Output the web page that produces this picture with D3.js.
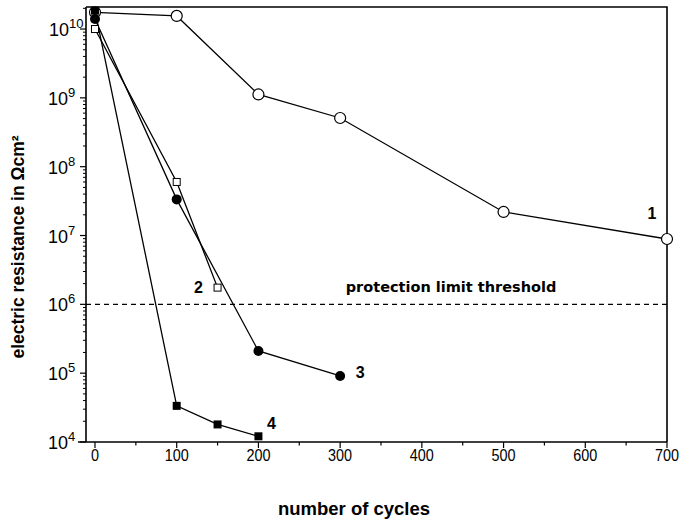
<!DOCTYPE html>
<html>
<head>
<meta charset="utf-8">
<script src="https://cdn.jsdelivr.net/npm/d3@7"></script>
<style>
  html, body { margin: 0; padding: 0; background: #fff; }
  svg { display: block; font-family: "Liberation Sans", Arial, sans-serif; }
</style>
</head>
<body>
<svg id="chart" width="681" height="521"></svg>
<script>
// Electric resistance (Ω·cm²) versus number of cycles for four coatings
const cycles1 = [0, 100, 200, 300, 500, 700];
const resist1 = [1.75e10, 1.55e10, 1.12e9, 5.1e8, 2.2e7, 8.9e6];

const cycles2 = [0, 100, 150];
const resist2 = [1.0e10, 6.0e7, 1.75e6];

const cycles3 = [0, 100, 200, 300];
const resist3 = [1.4e10, 3.35e7, 2.1e5, 9.1e4];

const cycles4 = [0, 100, 150, 200];
const resist4 = [1.85e10, 3.35e4, 1.8e4, 1.21e4];

const thresholdValue = 1e6;
const xTicks = [0, 100, 200, 300, 400, 500, 600, 700];
const xMinorTicks = [50, 150, 250, 350, 450, 550, 650];
const yDecades = [4, 5, 6, 7, 8, 9, 10];

const svg = d3.select("#chart");
const plotLeft = 86, plotRight = 667, plotTop = 7, plotBottom = 442;

const x = d3.scaleLinear().domain([-11, 700]).range([plotLeft, plotRight]);
const y = d3.scaleLog().domain([1e4, 2.09e10]).range([plotBottom, plotTop]);

// Frame (top and right sides)
svg.append("path")
  .attr("d", `M${plotLeft},${plotTop}H${plotRight}V${plotBottom}`)
  .attr("fill", "none").attr("stroke", "#000").attr("stroke-width", 1.6);

// X axis
const xAxis = svg.append("g").attr("transform", `translate(0,${plotBottom})`);
xAxis.append("line").attr("x1", 78).attr("x2", plotRight)
  .attr("stroke", "#000").attr("stroke-width", 1.6);
xAxis.selectAll("line.major").data(xTicks).join("line")
  .attr("class", "major")
  .attr("x1", d => x(d)).attr("x2", d => x(d))
  .attr("y1", 0).attr("y2", 6).attr("stroke", "#000").attr("stroke-width", 1.2);
xAxis.selectAll("line.minor").data(xMinorTicks).join("line")
  .attr("class", "minor")
  .attr("x1", d => x(d)).attr("x2", d => x(d))
  .attr("y1", 0).attr("y2", 3.5).attr("stroke", "#000").attr("stroke-width", 1.2);
xAxis.selectAll("text").data(xTicks).join("text")
  .attr("x", d => x(d)).attr("y", 19)
  .attr("text-anchor", "middle")
  .attr("font-size", 16)
  .attr("transform", d => `translate(${x(d)},0) scale(0.9,1) translate(${-x(d)},0)`)
  .text(d => d);

// Y axis
const yAxis = svg.append("g");
yAxis.append("line").attr("x1", plotLeft).attr("x2", plotLeft).attr("y1", plotTop).attr("y2", plotBottom)
  .attr("stroke", "#000").attr("stroke-width", 1.6);
yAxis.selectAll("line.major").data(yDecades).join("line")
  .attr("class", "major")
  .attr("x1", plotLeft - 6).attr("x2", plotLeft)
  .attr("y1", d => y(Math.pow(10, d))).attr("y2", d => y(Math.pow(10, d)))
  .attr("stroke", "#000").attr("stroke-width", 1.2);
const minor = [];
yDecades.forEach(d => {
  for (let m = 2; m <= 9; m++) {
    const v = m * Math.pow(10, d);
    if (v <= y.domain()[1]) minor.push(v);
  }
});
yAxis.selectAll("line.minor").data(minor).join("line")
  .attr("class", "minor")
  .attr("x1", plotLeft - 3).attr("x2", plotLeft)
  .attr("y1", d => y(d)).attr("y2", d => y(d))
  .attr("stroke", "#000").attr("stroke-width", 1);
const yLab = yAxis.selectAll("text").data(yDecades).join("text")
  .attr("x", d => d >= 10 ? 49 : 48)
  .attr("y", d => y(Math.pow(10, d)) + 7)
  .attr("font-size", 18);
yLab.append("tspan").text("10");
yLab.append("tspan").attr("dy", -8).attr("font-size", 13).text(d => d);

// Axis titles
svg.append("text")
  .attr("x", 354).attr("y", 515)
  .attr("text-anchor", "middle")
  .attr("font-size", 18.5).attr("font-weight", "bold")
  .text("number of cycles");
svg.append("text")
  .attr("transform", "translate(24,247) rotate(-90)")
  .attr("text-anchor", "middle")
  .attr("font-size", 17.5).attr("font-weight", "bold")
  .text("electric resistance in  \u03A9cm\u00B2");

// Protection limit threshold
svg.append("line")
  .attr("x1", plotLeft).attr("x2", plotRight)
  .attr("y1", y(thresholdValue)).attr("y2", y(thresholdValue))
  .attr("stroke", "#000").attr("stroke-width", 1.2)
  .attr("stroke-dasharray", "5,4");
svg.append("text")
  .attr("x", 451).attr("y", 292)
  .attr("text-anchor", "middle")
  .attr("font-family", "'DejaVu Sans', Verdana, sans-serif")
  .attr("font-size", 14.5).attr("font-weight", "bold")
  .text("protection limit threshold");

// Series lines
const line = d3.line().x(d => x(d[0])).y(d => y(d[1]));
const series = [
  { c: cycles1, r: resist1, marker: "openCircle" },
  { c: cycles2, r: resist2, marker: "openSquare" },
  { c: cycles3, r: resist3, marker: "filledCircle" },
  { c: cycles4, r: resist4, marker: "filledSquare" }
];
series.forEach(s => {
  s.pts = s.c.map((c, i) => [c, s.r[i]]);
  svg.append("path").attr("d", line(s.pts))
    .attr("fill", "none").attr("stroke", "#000").attr("stroke-width", 1.3);
});

// Markers
series.forEach(s => {
  const g = svg.append("g");
  s.pts.forEach(p => {
    const cx = x(p[0]), cy = y(p[1]);
    if (s.marker === "openCircle") {
      g.append("circle").attr("cx", cx).attr("cy", cy).attr("r", 5.5)
        .attr("fill", "#fff").attr("stroke", "#000").attr("stroke-width", 1.2);
    } else if (s.marker === "filledCircle") {
      g.append("circle").attr("cx", cx).attr("cy", cy).attr("r", 5)
        .attr("fill", "#000");
    } else if (s.marker === "openSquare") {
      g.append("rect").attr("x", cx - 3.5).attr("y", cy - 3.5).attr("width", 7).attr("height", 7)
        .attr("fill", "#fff").attr("stroke", "#000").attr("stroke-width", 1);
    } else {
      g.append("rect").attr("x", cx - 4).attr("y", cy - 4).attr("width", 8).attr("height", 8)
        .attr("fill", "#000");
    }
  });
});

// Series numbers
const seriesLabels = [
  { t: "1", x: 700, v: resist1[5], dx: -15, dy: -20 },
  { t: "2", x: 150, v: resist2[2], dx: -19, dy: 5 },
  { t: "3", x: 300, v: resist3[3], dx: 20, dy: 2 },
  { t: "4", x: 200, v: resist4[3], dx: 13, dy: -7 }
];
svg.selectAll("text.series").data(seriesLabels).join("text")
  .attr("class", "series")
  .attr("x", d => x(d.x) + d.dx).attr("y", d => y(d.v) + d.dy)
  .attr("text-anchor", "middle")
  .attr("font-size", 16).attr("font-weight", "bold")
  .text(d => d.t);
</script>
</body>
</html>
